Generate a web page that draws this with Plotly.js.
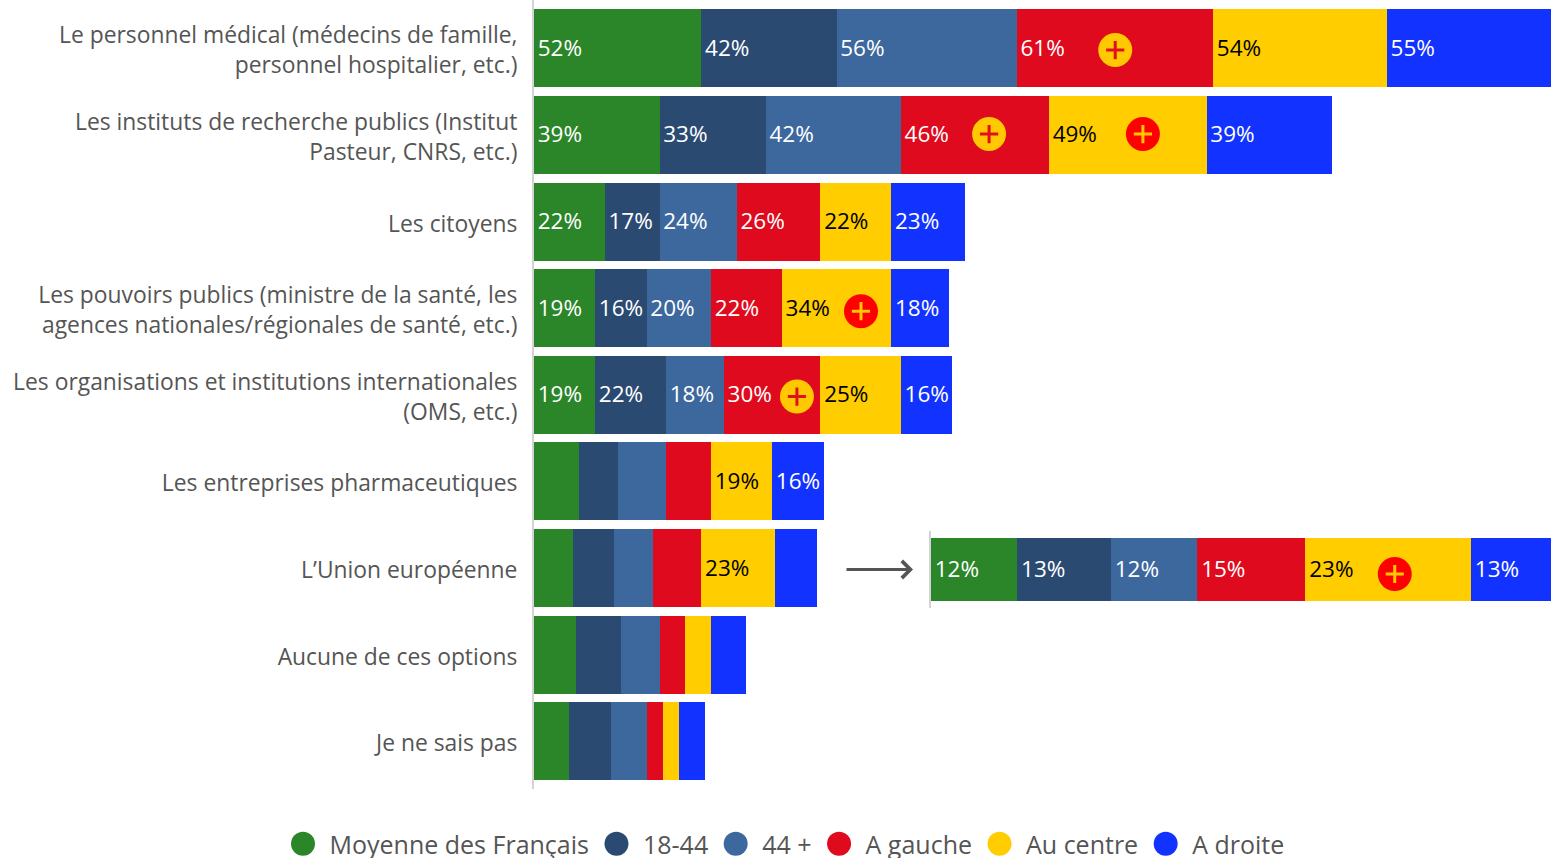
<!DOCTYPE html>
<html lang="fr">
<head>
<meta charset="utf-8">
<script src="https://cdn.plot.ly/plotly-3.0.1.min.js"></script>
<style>html,body{margin:0;padding:0;background:#fff;overflow:hidden}#chart{width:1551px;height:858px}</style>
</head>
<body>
<div id="chart"></div>
<script>
const categories = [
  "Le personnel médical (médecins de famille,<br>personnel hospitalier, etc.)",
  "Les instituts de recherche publics (Institut<br>Pasteur, CNRS, etc.)",
  "Les citoyens",
  "Les pouvoirs publics (ministre de la santé, les<br>agences nationales/régionales de santé, etc.)",
  "Les organisations et institutions internationales<br>(OMS, etc.)",
  "Les entreprises pharmaceutiques",
  "L’Union européenne",
  "Aucune de ces options",
  "Je ne sais pas"
];
const seriesNames = ["Moyenne des Français", "18-44", "44 +", "A gauche", "Au centre", "A droite"];
const moyenne = [52, 39, 22, 19, 19, 14, 12, 13, 11];
const jeunes  = [42, 33, 17, 16, 22, 12, 13, 14, 13];
const seniors = [56, 42, 24, 20, 18, 15, 12, 12, 11];
const gauche  = [61, 46, 26, 22, 30, 14, 15, 8, 5];
const centre  = [54, 49, 22, 34, 25, 19, 23, 8, 5];
const droite  = [55, 39, 23, 18, 16, 16, 13, 11, 8];
const showLabel = [
  [1,1,1,1,1,0,0,0,0],
  [1,1,1,1,1,0,0,0,0],
  [1,1,1,1,1,0,0,0,0],
  [1,1,1,1,1,0,0,0,0],
  [1,1,1,1,1,1,1,0,0],
  [1,1,1,1,1,1,0,0,0]
];
const unionSeries = [12, 13, 12, 15, 23, 13];

// "significantly higher" badges
const badgeRow = [0, 1, 1, 3, 4];
const badgeX   = [180.6, 141.4, 189.2, 101.6, 81.7];
const badgeShift = [0.02, -0.01, -0.01, 0.035, 0.02];
const badgeIsYellow = [true, true, false, false, true];
const unionBadgeX = 64.4;

const colors = ["#2B8529", "#2A4A72", "#3D689E", "#DF0A1E", "#FFCD00", "#1232FF"];
const labelColors = ["#fff", "#fff", "#fff", "#fff", "#000", "#fff"];
const allSeries = [moyenne, jeunes, seniors, gauche, centre, droite];
const RED = "#FF0000", YEL = "#FFC800";
const FONT = '"Open Sans", sans-serif';
const rows = categories.map((_, i) => i);

const traces = [];
allSeries.forEach((vals, s) => {
  traces.push({
    type: "bar", orientation: "h", x: vals, y: rows, xaxis: "x", yaxis: "y",
    marker: {color: colors[s], line: {width: 0}},
    text: vals.map((v, i) => showLabel[s][i] ? v + "%" : ""),
    textposition: "inside", insidetextanchor: "start", textangle: 0, constraintext: "none",
    cliponaxis: true, textfont: {family: FONT, size: 22.5, color: labelColors[s]},
    showlegend: false, hoverinfo: "skip"
  });
});
unionSeries.forEach((v, s) => {
  traces.push({
    type: "bar", orientation: "h", x: [v], y: [0], xaxis: "x2", yaxis: "y2",
    marker: {color: colors[s], line: {width: 0}},
    text: [v + "%"], textposition: "inside", insidetextanchor: "start", textangle: 0, constraintext: "none",
    cliponaxis: true, textfont: {family: FONT, size: 22.5, color: labelColors[s]},
    showlegend: false, hoverinfo: "skip"
  });
});
function badge(xs, ys, fills, marks, xa, ya) {
  traces.push({type: "scatter", mode: "markers", x: xs, y: ys, xaxis: xa, yaxis: ya, showlegend: false, hoverinfo: "skip",
    marker: {symbol: "circle", size: 34, color: fills, line: {width: 0}}});
  traces.push({type: "scatter", mode: "markers", x: xs, y: ys, xaxis: xa, yaxis: ya, showlegend: false, hoverinfo: "skip",
    marker: {symbol: "cross-thin", size: 13, color: marks, line: {width: 3, color: marks}}});
}
badge(badgeX, badgeRow.map((r, i) => r + badgeShift[i]),
  badgeIsYellow.map(y => y ? YEL : RED), badgeIsYellow.map(y => y ? "#E0101E" : YEL), "x", "y");
badge([unionBadgeX], [-0.064], [RED], [YEL], "x2", "y2");

seriesNames.forEach((n, s) => {
  traces.push({type: "scatter", mode: "markers", x: [null], y: [null], xaxis: "x", yaxis: "y",
    name: "\u00a0" + n + "\u200a", showlegend: true, hoverinfo: "skip",
    marker: {symbol: "circle", size: 16, color: colors[s]}});
});

const layout = {
  width: 1551, height: 858,
  margin: {l: 534, r: 0, t: 0, b: 69, autoexpand: false},
  paper_bgcolor: "#fff", plot_bgcolor: "rgba(0,0,0,0)",
  barmode: "stack", bargap: 0.1,
  font: {family: FONT, color: "#555"},
  xaxis: {range: [0, 316], domain: [0, 1], visible: false, fixedrange: true},
  yaxis: {
    range: [8.5505, -0.5575], domain: [0, 1], tickmode: "array", tickvals: rows, ticktext: categories,
    showline: true, linecolor: "#D3D3D3", linewidth: 2, showgrid: false, zeroline: false,
    ticks: "", ticklabelstandoff: 10, ticklabelshift: -2, tickfont: {family: FONT, size: 22.85, color: "#555"}, automargin: false, fixedrange: true
  },
  xaxis2: {domain: [397 / 1017, 1], range: [0, 86.1], anchor: "y2", visible: false, fixedrange: true},
  yaxis2: {
    domain: [1 - 608 / 789, 1 - 531 / 789], range: [-0.55, 0.55], anchor: "x2",
    showline: true, linecolor: "#D3D3D3", linewidth: 2, showticklabels: false, ticks: "", showgrid: false, zeroline: false, fixedrange: true
  },
  annotations: [{
    xref: "paper", yref: "paper", x: (913 - 534) / 1017, y: 1 - 569.5 / 789,
    axref: "pixel", ayref: "pixel", ax: -68, ay: 0, text: "", showarrow: true,
    arrowhead: 4, arrowsize: 1.1, arrowwidth: 3, arrowcolor: "#555"
  }],
  legend: {
    orientation: "h", traceorder: "normal", xref: "container", yref: "container", x: 787.5 / 1551, xanchor: "center",
    y: 37 / 858, yanchor: "top", font: {family: FONT, size: 25, color: "#555"}, bgcolor: "rgba(0,0,0,0)", itemclick: false, itemdoubleclick: false
  },
  showlegend: true
};

Plotly.newPlot("chart", traces, layout, {displayModeBar: false}).then(() => {
  document.querySelectorAll(".legend .legendpoints path").forEach(p => {
    p.setAttribute("transform", (p.getAttribute("transform") || "") + " scale(1.5)");
  });
  document.querySelectorAll("text.bartext").forEach(t => {
    const inset = t.closest(".x2y2") !== null;
    t.setAttribute("transform", "translate(0.7," + (inset ? -1.5 : -1) + ") " + (t.getAttribute("transform") || ""));
  });
});
</script>
</body>
</html>
